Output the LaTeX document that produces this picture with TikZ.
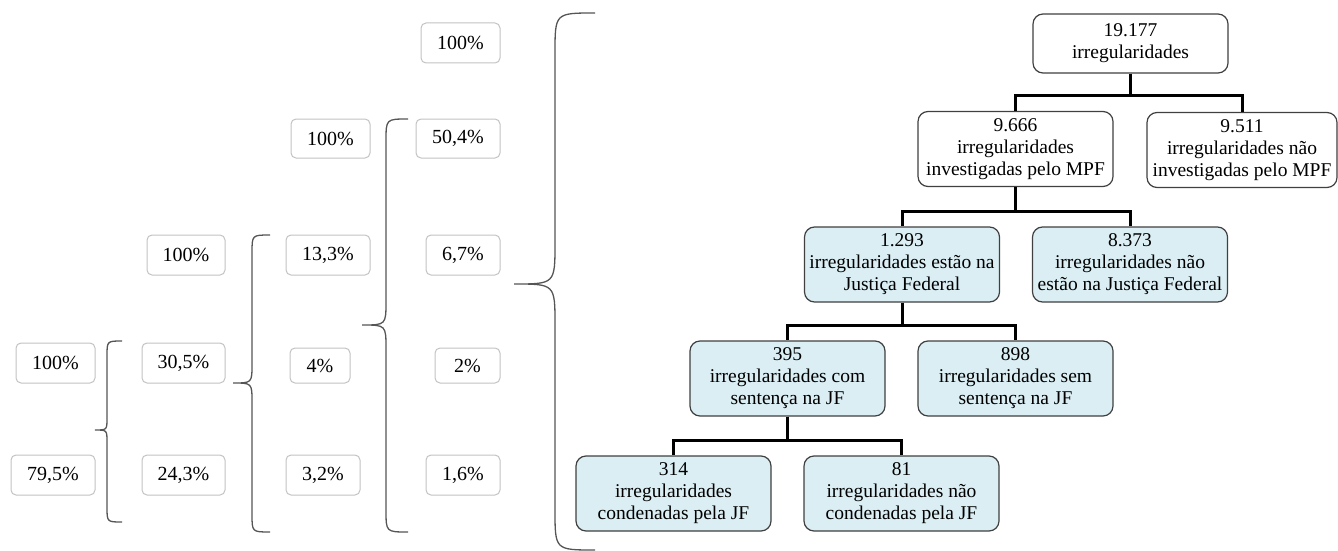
\documentclass[tikz,border=0pt]{standalone}
\usepackage{fontspec}
\setmainfont{Liberation Serif}
\definecolor{boxblue}{RGB}{218,238,243}
\definecolor{boxline}{RGB}{64,64,64}
\definecolor{braceline}{RGB}{85,85,85}
\definecolor{pctline}{RGB}{195,195,195}
\newcommand\mybrace[6]{%
  \draw[bracestyle] (#1,#4) .. controls (#2,#4) .. (#2,{#4+#1-#2})
    -- (#2,{#5-(#2-#3)}) .. controls (#2,#5) .. (#3,#5)
    .. controls (#2,#5) .. (#2,{#5+(#2-#3)})
    -- (#2,{#6-(#1-#2)}) .. controls (#2,#6) .. (#1,#6);}
\begin{document}
\begin{tikzpicture}[x=1pt,y=-1pt,
  every node/.style={font=\fontsize{19.5}{22}\selectfont, inner sep=0pt},
  tbox/.style={draw=boxline, line width=1.2pt, rounded corners=10pt, fill=white,
    align=center, minimum width=195pt, minimum height=75pt},
  bbox/.style={tbox, fill=boxblue},
  pct/.style={draw=pctline, line width=1pt, rounded corners=5pt, fill=white,
    minimum height=40pt, font=\fontsize{20}{22}\selectfont},
  conn/.style={line width=3pt, black},
  bracestyle/.style={draw=braceline, line width=1.3pt}]
\useasboundingbox (0,0) rectangle (1338,551);

% tree
\node[tbox, minimum height=59pt] (root) at (1130.5,43.5) {19.177\\irregularidades};
\node[tbox] (mpf) at (1015.5,149) {9.666\\irregularidades\\investigadas pelo MPF};
\node[tbox, minimum width=190pt] (nmpf) at (1242,150) {9.511\\irregularidades não\\investigadas pelo MPF};
\node[bbox] (jf) at (902,264.5) {1.293\\irregularidades estão na\\Justiça Federal};
\node[bbox] (njf) at (1130,264.5) {8.373\\irregularidades não\\estão na Justiça Federal};
\node[bbox] (com) at (787.5,378.5) {395\\irregularidades com\\sentença na JF};
\node[bbox] (sem) at (1015.5,378.5) {898\\irregularidades sem\\sentença na JF};
\node[bbox] (cond) at (673.5,493.5) {314\\irregularidades\\condenadas pela JF};
\node[bbox] (ncond) at (901.5,493.5) {81\\irregularidades não\\condenadas pela JF};

\draw[conn] (root.south) -- ++(0,22) -| (mpf.north);
\draw[conn] (root.south) -- ++(0,22) -| (nmpf.north);
\draw[conn] (mpf.south) -- ++(0,24) -| (jf.north);
\draw[conn] (mpf.south) -- ++(0,24) -| (njf.north);
\draw[conn] (jf.south) -- ++(0,23) -| (com.north);
\draw[conn] (jf.south) -- ++(0,23) -| (sem.north);
\draw[conn] (com.south) -- ++(0,24) -| (cond.north);
\draw[conn] (com.south) -- ++(0,24) -| (ncond.north);

% percentages
\node[pct, minimum width=79pt] (p1a) at (55.5,363) {100\%};
\node[pct, minimum width=84pt] (p1b) at (53,475) {79,5\%};
\node[pct, minimum width=78pt] (p2a) at (186,255) {100\%};
\node[pct, minimum width=83pt] (p2b) at (183.5,363) {30,5\%};
\node[pct, minimum width=83pt] (p2c) at (183.5,475) {24,3\%};
\node[pct, minimum width=79pt, minimum height=39pt] (p3a) at (330.5,138.5) {100\%};
\node[pct, minimum width=84pt] (p3b) at (328,255) {13,3\%};
\node[pct, minimum width=60pt, minimum height=35pt] (p3c) at (320,365.5) {4\%};
\node[pct, minimum width=74pt] (p3d) at (323,475) {3,2\%};
\node[pct, minimum width=79pt] (p4a) at (460.5,43) {100\%};
\node[pct, minimum width=84pt, minimum height=39pt] (p4b) at (458,138.5) {50,4\%};
\node[pct, minimum width=74pt] (p4c) at (463,255) {6,7\%};
\node[pct, minimum width=65pt, minimum height=35pt] (p4d) at (467.5,365.5) {2\%};
\node[pct, minimum width=74pt] (p4e) at (463,475) {1,6\%};

% braces
\mybrace{122}{107}{95}{341}{430}{522}
\mybrace{270}{252}{233}{235}{383}{532}
\mybrace{408}{386}{362}{119}{325}{532}
\mybrace{595}{555}{514}{13}{284}{550}
\end{tikzpicture}
\end{document}
